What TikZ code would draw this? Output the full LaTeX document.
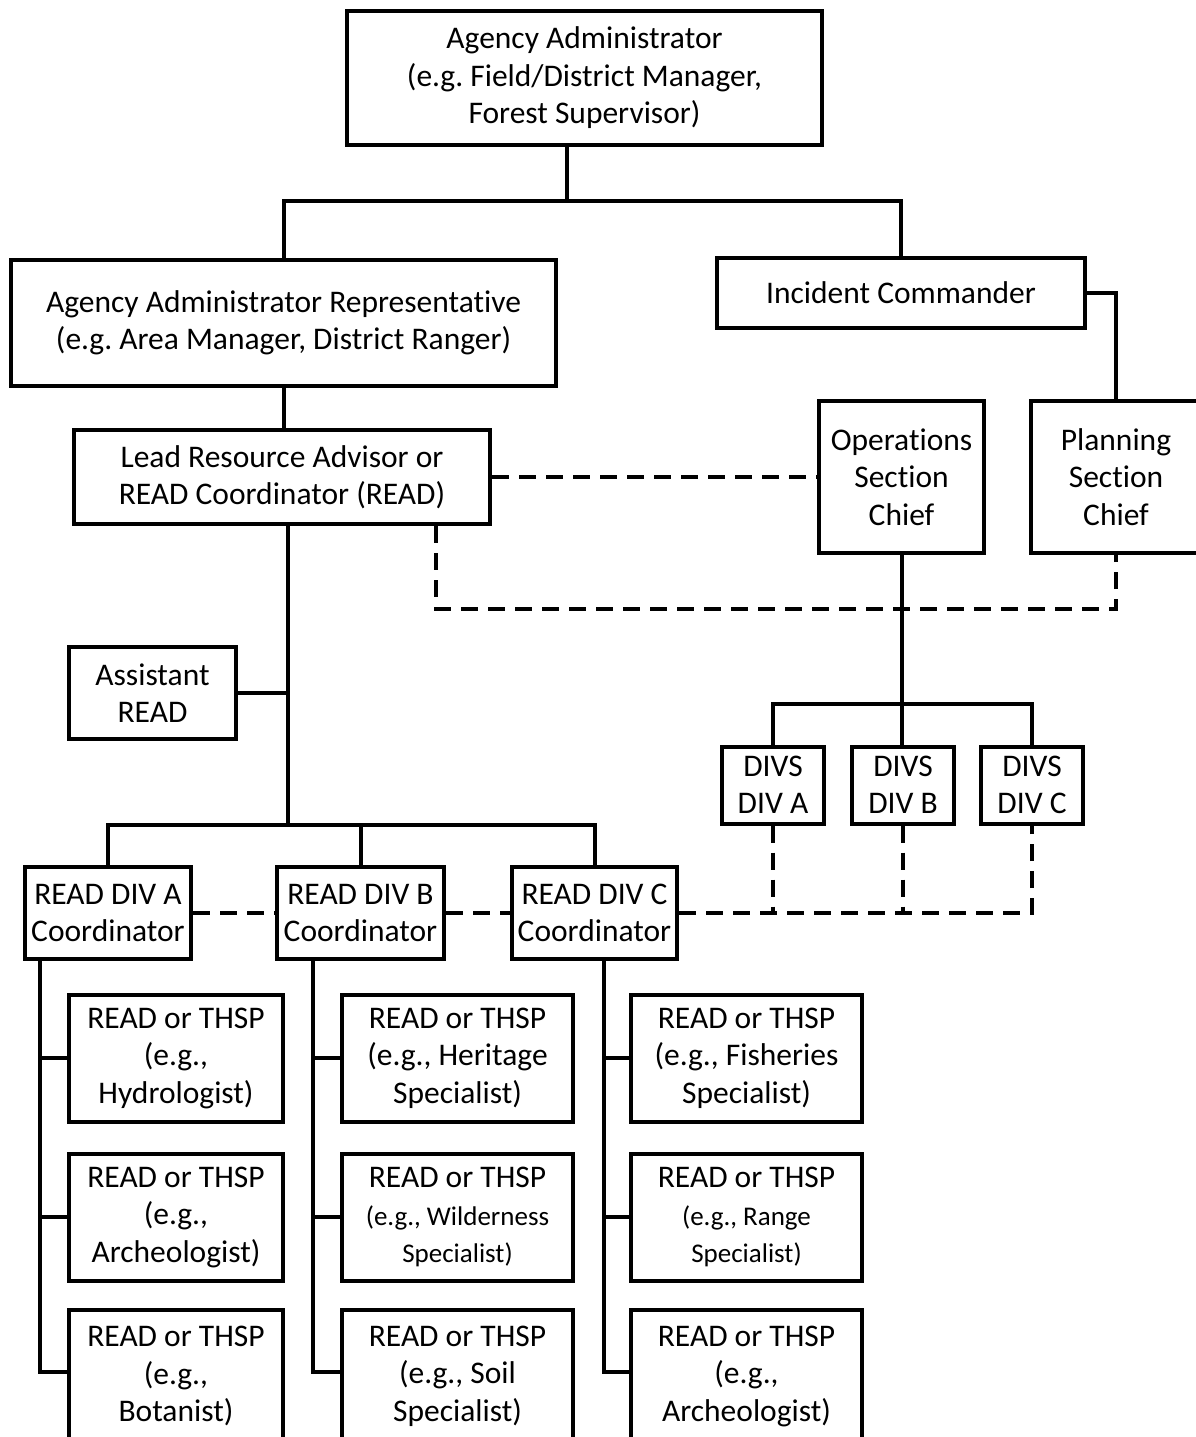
\documentclass[tikz,border=0pt]{standalone}
\usepackage{fontspec}
\setmainfont{Carlito}[Ligatures={NoCommon}]
\begin{document}
\frenchspacing
\begin{tikzpicture}[x=1pt,y=-1pt,
  box/.style={draw, line width=4pt, rectangle, align=center, inner sep=0pt, fill=white,
    font=\fontsize{31.5}{37.5}\selectfont},
  conn/.style={line width=4pt},
  dashline/.style={line width=4pt, dash pattern=on 17pt off 10pt}]
\useasboundingbox[fill=white] (0,0) rectangle (1196,1437);

% nodes
\node[box, minimum width=475, minimum height=134] (aa) at (584.5,78) {Agency Administrator\\(e.g. Field/District Manager,\\Forest Supervisor)};
\node[box, minimum width=545, minimum height=126] (aar) at (283.5,323) {Agency Administrator Representative\\(e.g. Area Manager, District Ranger)};
\node[box, minimum width=368, minimum height=70] (ic) at (901,293) {Incident Commander};
\node[box, minimum width=416, minimum height=94] (lra) at (282,477) {Lead Resource Advisor or\\READ Coordinator (READ)};
\node[box, minimum width=165, minimum height=152] (osc) at (901.5,477) {Operations\\Section\\Chief};
\node[box, minimum width=170, minimum height=152] (psc) at (1116,477) {Planning\\Section\\Chief};
\node[box, minimum width=167, minimum height=92] (ast) at (152.5,693) {Assistant\\READ};
\node[box, minimum width=102, minimum height=77] (divsA) at (773,785) {DIVS\\DIV A};
\node[box, minimum width=102, minimum height=77] (divsB) at (903,785) {DIVS\\DIV B};
\node[box, minimum width=102, minimum height=77] (divsC) at (1032,785) {DIVS\\DIV C};
\node[box, minimum width=166, minimum height=92] (rdA) at (108,913) {READ DIV A\\Coordinator};
\node[box, minimum width=167, minimum height=92] (rdB) at (360.5,913) {READ DIV B\\Coordinator};
\node[box, minimum width=165, minimum height=92] (rdC) at (594.5,913) {READ DIV C\\Coordinator};

\node[box, minimum width=214, minimum height=127] (sA1) at (176,1058) {READ or THSP\\(e.g.,\\Hydrologist)};
\node[box, minimum width=214, minimum height=127] (sA2) at (176,1217) {READ or THSP\\(e.g.,\\Archeologist)};
\node[box, minimum width=214, minimum height=132] (sA3) at (176,1376) {READ or THSP\\(e.g.,\\Botanist)};
\node[box, minimum width=231, minimum height=127] (sB1) at (457.5,1058) {READ or THSP\\(e.g., Heritage\\Specialist)};
\node[box, minimum width=231, minimum height=127] (sB2) at (457.5,1217) {READ or THSP\\{\fontsize{27}{34}\selectfont (e.g., Wilderness}\\{\fontsize{27}{34}\selectfont Specialist)}};
\node[box, minimum width=231, minimum height=132] (sB3) at (457.5,1376) {READ or THSP\\(e.g., Soil\\Specialist)};
\node[box, minimum width=231, minimum height=127] (sC1) at (746.5,1058) {READ or THSP\\(e.g., Fisheries\\Specialist)};
\node[box, minimum width=231, minimum height=127] (sC2) at (746.5,1217) {READ or THSP\\{\fontsize{27}{34}\selectfont (e.g., Range}\\{\fontsize{27}{34}\selectfont Specialist)}};
\node[box, minimum width=231, minimum height=132] (sC3) at (746.5,1376) {READ or THSP\\(e.g.,\\Archeologist)};

% junction coordinates
\coordinate (j1) at (567,201);
\coordinate (d1) at (436,609);
\coordinate (j2) at (902,704);
\coordinate (j3) at (288,825);
\coordinate (tA) at (40,1372);
\coordinate (tB) at (313,1372);
\coordinate (tC) at (604,1372);

% solid connectors
\draw[conn] (aa.south -| j1) -- (j1);
\draw[conn] (aar.north) |- (j1) -| (ic.north);
\draw[conn] (ic.east) -| (psc.north);
\draw[conn] (aar.south) -- (aar.south |- lra.north);
\draw[conn] (osc.south -| j2) -- (j2);
\draw[conn] (divsA.north) |- (j2) -| (divsC.north);
\draw[conn] (j2) -- (divsB.north -| j2);
\draw[conn] (lra.south -| j3) -- (j3);
\draw[conn] (ast.east) -- (ast.east -| j3);
\draw[conn] (rdA.north) |- (j3) -| (rdC.north);
\draw[conn] (rdB.north) -- (rdB.north |- j3);

\draw[conn] (rdA.south -| tA) |- (tA) -- (sA3.west |- tA);
\draw[conn] (sA1.west) -- (sA1.west -| tA);
\draw[conn] (sA2.west) -- (sA2.west -| tA);
\draw[conn] (rdB.south -| tB) |- (tB) -- (sB3.west |- tB);
\draw[conn] (sB1.west) -- (sB1.west -| tB);
\draw[conn] (sB2.west) -- (sB2.west -| tB);
\draw[conn] (rdC.south -| tC) |- (tC) -- (sC3.west |- tC);
\draw[conn] (sC1.west) -- (sC1.west -| tC);
\draw[conn] (sC2.west) -- (sC2.west -| tC);

% dashed connectors
\draw[dashline] (lra.east) -- (lra.east -| osc.west);
\draw[dashline] (lra.south -| d1) -- (d1) -| (psc.south);
\draw[dashline] (rdA.east) -- (rdA.east -| rdB.west);
\draw[dashline] (rdB.east) -- (rdB.east -| rdC.west);
\draw[dashline] (rdC.east) -| (divsC.south);
\draw[dashline] (divsA.south) -- (divsA.south |- rdC.east);
\draw[dashline] (divsB.south) -- (divsB.south |- rdC.east);
\end{tikzpicture}
\end{document}
